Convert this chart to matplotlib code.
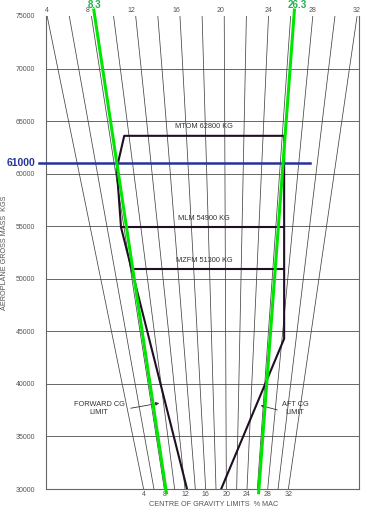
import numpy as np
import matplotlib.pyplot as plt
import matplotlib.transforms as mtransforms

plt.rcParams['font.family'] = ['Liberation Sans', 'DejaVu Sans']

# % MAC reference lines and scale labels
mac_lines = [4, 6, 8, 10, 12, 14, 16, 18, 20, 22, 24, 26, 28, 30, 32]
mac_labels = [4, 8, 12, 16, 20, 24, 28, 32]
mass_ticks = [30000, 35000, 40000, 45000, 50000, 55000, 60000, 65000, 70000, 75000]

# CG envelope (pct MAC, mass kg), fwd bottom -> round the top -> aft bottom
env_pct = [12.4, 7.65, 8.2, 9.5, 26.2, 28.3, 19.0]
env_mass = [30000, 54900, 60500, 63600, 63600, 44300, 30000]

# horizontal weight limits inside the envelope
limit_names = ['MTOM 62800 KG', 'MLM 54900 KG', 'MZFM 51300 KG']
limit_mass = [63600, 54900, 50900]
limit_fwd = [9.5, 7.65, 8.15]
limit_aft = [26.2, 27.0, 27.4]

cg_limits = [8.3, 26.3]
test_mass = 61000

m_lo, m_hi = 30000, 75000


def cg_x(pct, mass):
    # horizontal position of a %MAC value at a given mass (lines fan out upwards)
    pct = np.asarray(pct, dtype=float)
    t = (np.asarray(mass, dtype=float) - m_lo) / (m_hi - m_lo)
    top = 156.1 + 11.07 * (pct - 18)
    bot = 170.0 + 5.17 * (pct - 18)
    return bot + (top - bot) * t


W, H = 369, 513
fig = plt.figure(figsize=(W/100., H/100.), dpi=100)
ax = fig.add_axes([46/W, 1-489/H, 313/W, 473/H])
ax.set_xlim(0, 313)
ax.set_ylim(m_lo, m_hi)

gray = '#555555'
for sp in ['left', 'right', 'bottom']:
    ax.spines[sp].set_color('#666666')
    ax.spines[sp].set_linewidth(0.8)
ax.spines['top'].set_visible(False)

ax.set_xticks([])
ax.set_yticks(mass_ticks)
ax.set_yticklabels([str(m) for m in mass_ticks], fontsize=5, color=gray)
ax.tick_params(axis='y', length=0, pad=8)
for m in mass_ticks[1:-1]:
    ax.axhline(m, color='#666666', lw=0.7, zorder=1)

# slanted %MAC lines
for p in mac_lines:
    ax.plot(cg_x([p, p], [m_lo, m_hi]), [m_lo, m_hi], color='#444444', lw=0.55, zorder=2)

# scale labels top and bottom
for p in mac_labels:
    dx = -4 if 4 < p < 24 else 0
    ax.text(cg_x(p, m_hi) + dx, 75500, str(p), ha='center', va='center', fontsize=5, color=gray, clip_on=False)
    ax.text(cg_x(p, m_lo), 29480, str(p), ha='center', va='center', fontsize=5, color=gray, clip_on=False)

# envelope
env_col = '#1e0f24'
ax.plot(cg_x(env_pct, env_mass), env_mass, color=env_col, lw=1.5, zorder=3)
for name, m, f, a in zip(limit_names, limit_mass, limit_fwd, limit_aft):
    if m != limit_mass[0]:
        ax.plot(cg_x([f, a], [m, m]), [m, m], color=env_col, lw=1.5, zorder=3)
    ax.text(158, m + 880, name, ha='center', va='center', fontsize=5.3, color='#333333')

# test mass line
blue = '#26339a'
ax.axhline(test_mass, xmin=-0.0224, xmax=0.8435, color=blue, lw=1.8, clip_on=False, zorder=4)
trans = mtransforms.blended_transform_factory(ax.transAxes, ax.transData)
ax.text(-0.035, test_mass, str(test_mass), transform=trans, ha='right', va='center',
        fontsize=7.5, fontweight='bold', color=blue)

# computed CG limits
for p in cg_limits:
    ax.plot(cg_x([p, p], [29650, 75570]), [29650, 75570], color='#00e600', lw=2.2,
            clip_on=False, zorder=5)
    ax.text(cg_x(p, 76050) + 2, 76050, str(p), ha='center', va='center', fontsize=7,
            fontweight='bold', color='#1db34a', clip_on=False)

# limit callouts
ax.text(53, 37640, 'FORWARD CG\nLIMIT', ha='center', va='center', fontsize=5.3,
        color='#333333', linespacing=1.3)
ax.annotate('', xy=(116, 38210), xytext=(82, 37640),
            arrowprops=dict(arrowstyle='-|>', color='#333333', lw=0.6, mutation_scale=5))
ax.text(249, 37640, 'AFT CG\nLIMIT', ha='center', va='center', fontsize=5.3,
        color='#333333', linespacing=1.3)
ax.annotate('', xy=(212, 38020), xytext=(234, 37450),
            arrowprops=dict(arrowstyle='-|>', color='#333333', lw=0.6, mutation_scale=5))

ax.set_ylabel('AEROPLANE GROSS MASS  KGS', fontsize=5.2, color=gray)
ax.yaxis.set_label_coords(-0.121, 0.5)
fig.text(214/W, 1-505/H, 'CENTRE OF GRAVITY LIMITS  % MAC', ha='center', va='center',
         fontsize=5.2, color=gray)

fig.savefig('out.png', dpi=100)
